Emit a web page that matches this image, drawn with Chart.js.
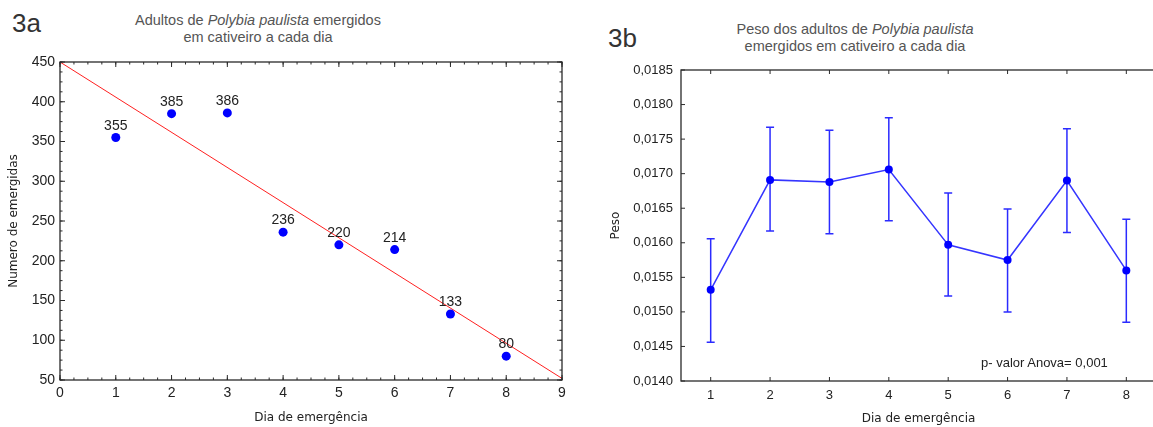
<!DOCTYPE html>
<html>
<head>
<meta charset="utf-8">
<script src="https://cdn.jsdelivr.net/npm/chart.js"></script>
<style>
    html, body {
        margin: 0;
        padding: 0;
        width: 1153px;
        height: 427px;
        overflow: hidden;
        background: #fff;
    }
    canvas {
        position: absolute;
        top: 0;
    }
    .txt {
        position: absolute;
        font-family: "Liberation Sans", Arial, sans-serif;
        color: #222;
        white-space: nowrap;
    }
    .title {
        font-size: 14.5px;
        line-height: 17px;
        color: #555;
        text-align: center;
        width: 400px;
    }
    .fig {
        font-size: 26px;
        line-height: 26px;
        color: #333;
    }
</style>
</head>
<body>
<div class="txt fig" style="left:12px;top:10px">3a</div>
<div class="txt title" style="left:58px;top:12px">Adultos de <i>Polybia paulista</i> emergidos<br>em cativeiro a cada dia</div>
<canvas id="chartA" width="580" height="427" style="left:0"></canvas>

<div class="txt fig" style="left:608px;top:25px">3b</div>
<div class="txt title" style="left:655px;top:21px">Peso dos adultos de <i>Polybia paulista</i><br>emergidos em cativeiro a cada dia</div>
<canvas id="chartB" width="600" height="427" style="left:580px"></canvas>
<div class="txt" style="left:981px;top:355px;font-size:13px;line-height:16px">p- valor Anova= 0,001</div>

<script>
// data
const days = [1, 2, 3, 4, 5, 6, 7, 8];
const emerged = [355, 385, 386, 236, 220, 214, 133, 80];
// regression line, start and end as drawn
const trendX = [0, 9];
const trendY = [450, 52];
const dayTicks = [0, 1, 2, 3, 4, 5, 6, 7, 8, 9];
const countTicks = [50, 100, 150, 200, 250, 300, 350, 400, 450];

const weightMean = [0.01532, 0.01691, 0.01688, 0.01706, 0.01597, 0.01575, 0.01690, 0.01560];
const weightUpper = [0.01606, 0.01767, 0.01763, 0.01781, 0.01672, 0.01649, 0.01765, 0.01634];
const weightLower = [0.01456, 0.01617, 0.01613, 0.01632, 0.01523, 0.01500, 0.01615, 0.01485];
const weightTicks = [0.0140, 0.0145, 0.0150, 0.0155, 0.0160, 0.0165, 0.0170, 0.0175, 0.0180, 0.0185];

const sans = '"Liberation Sans", Arial, sans-serif';
const dejavu = '"DejaVu Sans", sans-serif';

// box round the plot with little ticks pointing inwards
const framePlugin = {
    id: 'frame',
    afterDraw(chart, args, opts) {
        const ctx = chart.ctx;
        const a = chart.chartArea;
        const xs = chart.scales.x;
        const ys = chart.scales.y;
        ctx.save();
        ctx.strokeStyle = '#2a2a2a';
        ctx.lineWidth = 1.3;
        ctx.strokeRect(a.left, a.top, a.right - a.left, a.bottom - a.top);
        ctx.lineWidth = 1;
        const tick = (x1, y1, x2, y2) => {
            ctx.beginPath();
            ctx.moveTo(x1, y1);
            ctx.lineTo(x2, y2);
            ctx.stroke();
        };
        // x ticks top and bottom
        xs.ticks.forEach(t => {
            const px = xs.getPixelForValue(t.value);
            tick(px, a.bottom, px, a.bottom - opts.len);
            tick(px, a.top, px, a.top + opts.len);
        });
        ys.ticks.forEach(t => {
            const py = ys.getPixelForValue(t.value);
            tick(a.left, py, a.left + opts.len, py);
            if (opts.right) tick(a.right, py, a.right - opts.len, py);
        });
        // minor ticks (only on 3a)
        if (opts.minorX) {
            for (let v = xs.min; v <= xs.max; v += opts.minorX) {
                const px = xs.getPixelForValue(v);
                tick(px, a.bottom, px, a.bottom - 2.5);
                tick(px, a.top, px, a.top + 2.5);
            }
            for (let v = ys.min; v <= ys.max; v += opts.minorY) {
                const py = ys.getPixelForValue(v);
                tick(a.left, py, a.left + 2.5, py);
                tick(a.right, py, a.right - 2.5, py);
            }
        }
        ctx.restore();
    }
};

// numbers written above each point of 3a
const pointLabels = {
    id: 'pointLabels',
    afterDatasetsDraw(chart) {
        const ctx = chart.ctx;
        const meta = chart.getDatasetMeta(0);
        ctx.save();
        ctx.font = '14px ' + sans;
        ctx.fillStyle = '#222';
        ctx.textAlign = 'center';
        ctx.textBaseline = 'alphabetic';
        meta.data.forEach((pt, i) => {
            ctx.fillText(String(emerged[i]), pt.x, pt.y - 8);
        });
        ctx.restore();
    }
};

// vertical bars with caps for 3b
const errorBars = {
    id: 'errorBars',
    beforeDatasetsDraw(chart) {
        const ctx = chart.ctx;
        const xs = chart.scales.x;
        const ys = chart.scales.y;
        ctx.save();
        ctx.strokeStyle = '#2b2bff';
        ctx.lineWidth = 1.5;
        days.forEach((d, i) => {
            const px = xs.getPixelForValue(i);
            const top = ys.getPixelForValue(weightUpper[i]);
            const bot = ys.getPixelForValue(weightLower[i]);
            ctx.beginPath();
            ctx.moveTo(px, top);
            ctx.lineTo(px, bot);
            ctx.moveTo(px - 4, top);
            ctx.lineTo(px + 4, top);
            ctx.moveTo(px - 4, bot);
            ctx.lineTo(px + 4, bot);
            ctx.stroke();
        });
        ctx.restore();
    }
};

const configA = {
    type: 'scatter',
    data: {
        datasets: [{
            data: days.map((d, i) => ({ x: d, y: emerged[i] })),
            backgroundColor: '#0000ff',
            borderWidth: 0,
            pointRadius: 4.5
        }, {
            type: 'line',
            data: trendX.map((x, i) => ({ x: x, y: trendY[i] })),
            borderColor: '#ff2020',
            borderWidth: 1,
            pointRadius: 0,
            showLine: true
        }]
    },
    options: {
        responsive: false,
        animation: false,
        layout: { padding: { top: 62, right: 18, left: 0, bottom: 0 } },
        plugins: {
            legend: { display: false },
            tooltip: { enabled: false },
            frame: { len: 5, right: true, minorX: 0.25, minorY: 12.5 }
        },
        scales: {
            x: {
                type: 'linear',
                min: 0,
                max: 9,
                afterBuildTicks: s => { s.ticks = dayTicks.map(v => ({ value: v })); },
                afterFit: s => { s.height = 47; },
                grid: { display: false, drawTicks: false },
                border: { display: false },
                ticks: { font: { size: 14, family: sans }, color: '#222', padding: 5, maxRotation: 0 },
                title: {
                    display: true,
                    text: 'Dia de emergência',
                    font: { size: 12, family: dejavu },
                    color: '#222',
                    padding: { top: 0, bottom: 2 }
                }
            },
            y: {
                min: 50,
                max: 450,
                afterBuildTicks: s => { s.ticks = countTicks.map(v => ({ value: v })); },
                afterFit: s => { s.width = 60; },
                grid: { display: false, drawTicks: false },
                border: { display: false },
                ticks: { font: { size: 14, family: sans }, color: '#222', padding: 5 },
                title: {
                    display: true,
                    text: 'Numero de emergidas',
                    font: { size: 12, family: dejavu },
                    color: '#222',
                    padding: { top: 7, bottom: 0 }
                }
            }
        }
    },
    plugins: [framePlugin, pointLabels]
};

const configB = {
    type: 'line',
    data: {
        labels: days.map(String),
        datasets: [{
            data: weightMean,
            borderColor: '#3535ff',
            borderWidth: 1.5,
            pointRadius: 4,
            pointBackgroundColor: '#0000ff',
            pointBorderWidth: 0,
            tension: 0
        }]
    },
    options: {
        responsive: false,
        animation: false,
        layout: { padding: { top: 70, right: 24, left: 0, bottom: 0 } },
        plugins: {
            legend: { display: false },
            tooltip: { enabled: false },
            frame: { len: 4, right: false }
        },
        scales: {
            x: {
                type: 'category',
                offset: true,
                afterFit: s => { s.height = 46; },
                grid: { display: false, drawTicks: false },
                border: { display: false },
                ticks: { font: { size: 13, family: sans }, color: '#222', padding: 7, maxRotation: 0 },
                title: {
                    display: true,
                    text: 'Dia de emergência',
                    font: { size: 12, family: dejavu },
                    color: '#222',
                    padding: { top: 0, bottom: 1 }
                }
            },
            y: {
                min: 0.0140,
                max: 0.0185,
                afterBuildTicks: s => { s.ticks = weightTicks.map(v => ({ value: v })); },
                afterFit: s => { s.width = 101; },
                grid: { display: false, drawTicks: false },
                border: { display: false },
                ticks: {
                    font: { size: 13, family: sans },
                    color: '#222',
                    padding: 8,
                    callback: v => v.toFixed(4).replace('.', ',')
                },
                title: {
                    display: true,
                    text: 'Peso',
                    font: { size: 12, family: dejavu },
                    color: '#222',
                    padding: { top: 29, bottom: 0 }
                }
            }
        }
    },
    plugins: [framePlugin, errorBars]
};

const chartA = new Chart(document.getElementById('chartA').getContext('2d'), configA);
const chartB = new Chart(document.getElementById('chartB').getContext('2d'), configB);
</script>
</body>
</html>
